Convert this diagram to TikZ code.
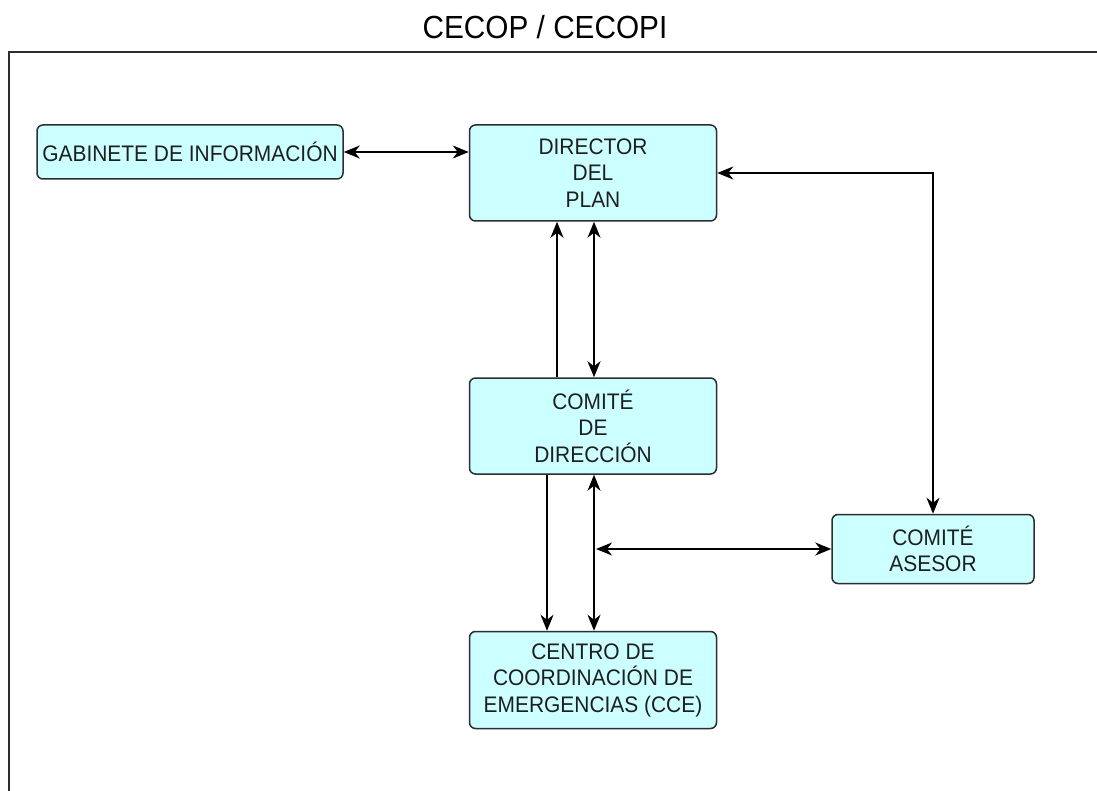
\documentclass[tikz,border=0pt]{standalone}
\usepackage{fontspec}
\setmainfont{Liberation Sans}
\newfontfamily\narrowsans[FakeStretch=0.93]{Liberation Sans}
\usetikzlibrary{arrows.meta,calc}
\definecolor{boxfill}{RGB}{204,255,255}
\definecolor{edge}{RGB}{45,45,45}
\definecolor{txt}{RGB}{30,30,30}
\begin{document}
\begin{tikzpicture}[x=1pt,y=-1pt,
  unitbox/.style={draw=edge,line width=1.5pt,fill=boxfill,rounded corners=6pt,
    align=center,text=txt,inner sep=0pt,font=\narrowsans\fontsize{22.5}{26.5}\selectfont},
  conn/.style={line width=1.6pt,draw=black,
    arrows={-Stealth[length=16pt,width=13pt,inset=5pt]}},
  biconn/.style={line width=1.6pt,draw=black,
    arrows={Stealth[length=16pt,width=13pt,inset=5pt]-Stealth[length=16pt,width=13pt,inset=5pt]}},
  framestyle/.style={draw=edge,line width=2pt}]
\useasboundingbox (0,0) rectangle (1097,791);
\fill[white] (0,0) rectangle (1097,791);

\node[font=\narrowsans\fontsize{32}{36}\selectfont,text=black] (title) at (545,27) {CECOP / CECOPI};
\coordinate (fbl) at (9,791);
\coordinate (ftl) at (9,52);
\coordinate (ftr) at (1097,52);
\draw[framestyle] (fbl) -- (ftl) -- (ftr);

\node[unitbox,minimum width=306pt,minimum height=54pt] (gab) at (190,152) {GABINETE DE INFORMACIÓN};
\node[unitbox,minimum width=247pt,minimum height=96pt] (dir) at (593,173) {DIRECTOR\\DEL\\PLAN};
\node[unitbox,minimum width=247pt,minimum height=96pt] (cd) at (593,426) {COMITÉ\\DE\\DIRECCIÓN};
\node[unitbox,minimum width=202pt,minimum height=69pt] (ase) at (933,549) {COMITÉ\\ASESOR};
\node[unitbox,minimum width=247pt,minimum height=97pt] (cce) at (593,680) {CENTRO DE\\COORDINACIÓN DE\\EMERGENCIAS (CCE)};

\draw[biconn] (gab.east) -- (gab.east -| dir.west);
\draw[biconn] (dir.east) -| (ase.north);

\coordinate (a1) at ($(cd.north)+(-36,0)$);
\coordinate (a2) at ($(cd.north)+(1,0)$);
\draw[conn] (a1) -- (a1 |- dir.south);
\draw[biconn] (a2 |- dir.south) -- (a2);

\coordinate (b1) at ($(cd.south)+(-46,0)$);
\coordinate (b2) at ($(cd.south)+(1,0)$);
\draw[conn] (b1) -- (b1 |- cce.north);
\draw[biconn] (b2) -- (b2 |- cce.north);

\coordinate (j) at (596,549);
\draw[biconn] (j) -- (j -| ase.west);
\end{tikzpicture}
\end{document}
